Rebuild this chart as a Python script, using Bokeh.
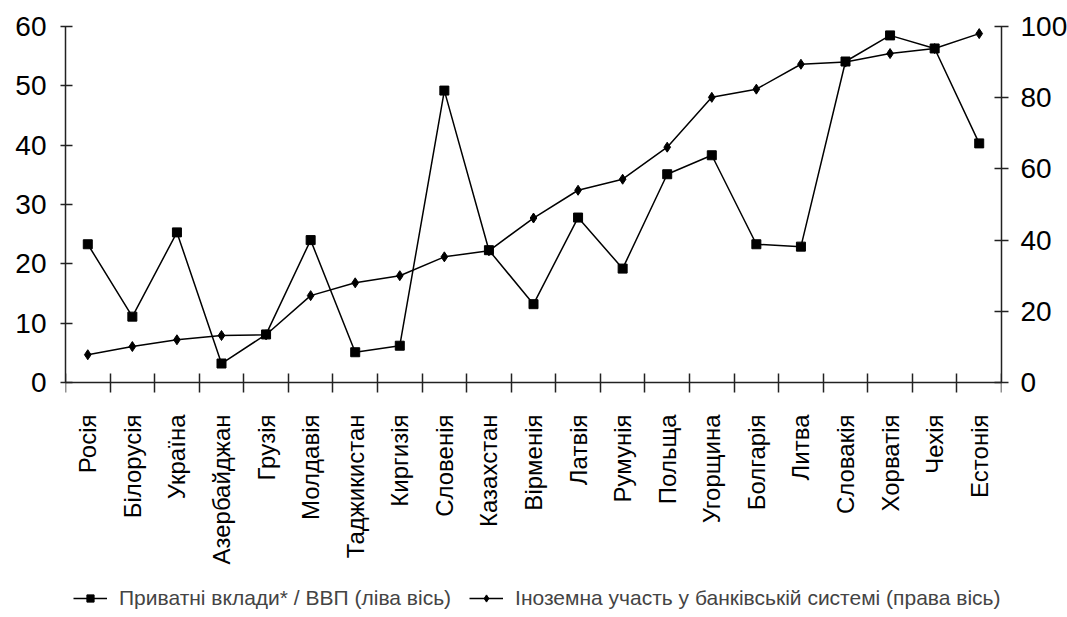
from bokeh.plotting import figure
from bokeh.models import Range1d, LinearAxis, FixedTicker, Legend, LegendItem
from bokeh.embed import file_html
from bokeh.resources import INLINE
import math

countries = ["Росія", "Білорусія", "Україна", "Азербайджан", "Грузія", "Молдавія",
             "Таджикистан", "Киргизія", "Словенія", "Казахстан", "Вірменія", "Латвія",
             "Румунія", "Польща", "Угорщина", "Болгарія", "Литва", "Словакія",
             "Хорватія", "Чехія", "Естонія"]
deposits_gdp = [23.3, 11.1, 25.3, 3.2, 8.1, 24.0, 5.1, 6.2, 49.2, 22.3, 13.2, 27.8,
                19.2, 35.1, 38.3, 23.3, 22.9, 54.1, 58.5, 56.3, 40.3]
foreign_share = [7.8, 10.1, 12.0, 13.2, 13.4, 24.4, 28.0, 30.0, 35.3, 37.0, 46.2, 54.0,
                 57.1, 66.1, 80.1, 82.4, 89.4, 90.0, 92.4, 93.8, 98.0]
left_ticks = [0, 10, 20, 30, 40, 50, 60]
right_ticks = [0, 20, 40, 60, 80, 100]
label1 = "Приватні вклади* / ВВП (ліва вісь)"
label2 = "Іноземна участь у банківській системі (права вісь)"

n = len(countries)
xs = [i + 0.5 for i in range(n)]

FONT = "Liberation Sans"
AX = "#222222"

# values occupy the top 356 px of the frame; the frame continues below
# to hold the rotated category labels and the legend
FRAME_H = 586
VAL_H = 356
left_max, right_max = 60, 100
left_min = -left_max * (FRAME_H - VAL_H) / VAL_H
right_min = -right_max * (FRAME_H - VAL_H) / VAL_H

p = figure(frame_width=936, frame_height=FRAME_H, output_backend="svg",
           toolbar_location=None,
           x_range=Range1d(0, n), y_range=Range1d(left_min, left_max),
           min_border_left=65, min_border_right=62, min_border_top=26,
           min_border_bottom=0, x_axis_location=None, y_axis_location=None)
p.outline_line_color = None
p.xgrid.visible = False
p.ygrid.visible = False
p.background_fill_color = "white"
p.border_fill_color = "white"
p.extra_y_ranges = {"right": Range1d(right_min, right_max)}

# left axis
ly = LinearAxis(ticker=FixedTicker(ticks=left_ticks), bounds=(0, left_max))
ly.axis_line_color = AX
ly.axis_line_width = 1.5
ly.major_tick_line_color = AX
ly.major_tick_line_width = 1.5
ly.major_tick_in = 7
ly.major_tick_out = 5
ly.minor_tick_line_color = None
ly.major_label_text_font = FONT
ly.major_label_text_font_size = "28px"
ly.major_label_text_color = "black"
ly.major_label_standoff = 14
p.add_layout(ly, "left")

# right axis
ry = LinearAxis(y_range_name="right", ticker=FixedTicker(ticks=right_ticks),
                bounds=(0, right_max))
ry.axis_line_color = AX
ry.axis_line_width = 1.5
ry.major_tick_line_color = AX
ry.major_tick_line_width = 1.5
ry.major_tick_in = 7
ry.major_tick_out = 7
ry.minor_tick_line_color = None
ry.major_label_text_font = FONT
ry.major_label_text_font_size = "28px"
ry.major_label_text_color = "black"
ry.major_label_standoff = 12
p.add_layout(ry, "right")

# bottom axis, fixed at value 0
bx = LinearAxis(ticker=FixedTicker(ticks=xs, minor_ticks=list(range(n + 1))),
                fixed_location=0)
bx.axis_line_color = AX
bx.axis_line_width = 1.5
bx.major_tick_line_color = None
bx.major_tick_in = 0
bx.major_tick_out = 0
bx.minor_tick_line_color = AX
bx.minor_tick_line_width = 1.5
bx.minor_tick_in = 9
bx.minor_tick_out = 10
bx.major_label_overrides = {x: c for x, c in zip(xs, countries)}
bx.major_label_orientation = math.pi / 2
bx.major_label_text_font = FONT
bx.major_label_text_font_size = "24px"
bx.major_label_text_color = "black"
bx.major_label_standoff = 22
p.add_layout(bx, "below")

l1 = p.line(xs, deposits_gdp, line_color="black", line_width=1.5)
s1 = p.scatter(xs, deposits_gdp, marker="square", size=9, color="black")
l2 = p.line(xs, foreign_share, line_color="black", line_width=1.5, y_range_name="right")
s2 = p.scatter(xs, foreign_share, marker="diamond", size=10, color="black",
               y_range_name="right")

legend = Legend(items=[LegendItem(label=label1, renderers=[l1, s1]),
                       LegendItem(label=label2, renderers=[l2, s2])],
                orientation="horizontal", location=(8, 2),
                label_text_font=FONT, label_text_font_size="21px",
                label_height=20, label_text_line_height=1.0,
                glyph_width=34, glyph_height=18, label_standoff=12, spacing=18,
                padding=1, margin=0, border_line_color=None,
                background_fill_alpha=0)
p.add_layout(legend, "center")

open("out.html", "w").write(file_html(p, INLINE))
